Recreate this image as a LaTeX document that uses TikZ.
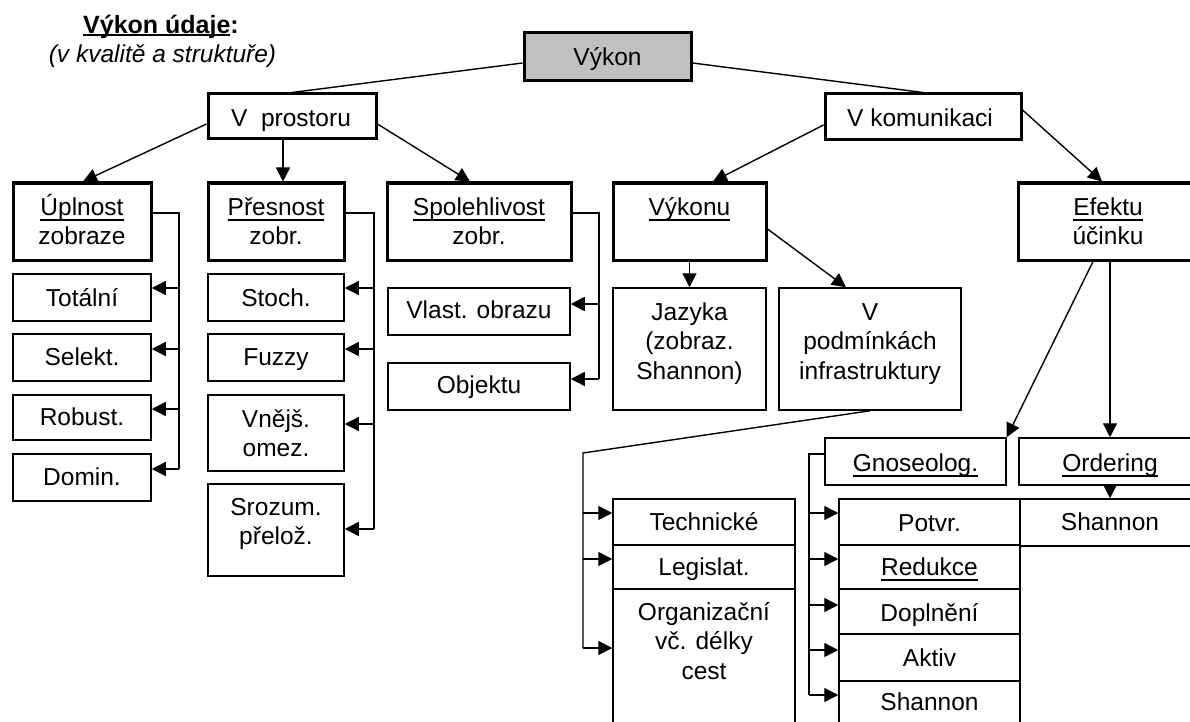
\documentclass[tikz,border=0pt]{standalone}
\usepackage{fontspec}
\setmainfont{Liberation Sans}
\usetikzlibrary{arrows.meta,calc}
\definecolor{boxgray}{RGB}{192,192,192}
% underline set at a fixed depth below the baseline
\newcommand\undl[1]{\setbox0\hbox{#1}\rlap{\rule[-5.3pt]{\wd0}{2pt}}\box0}
\newcommand\ttlul[1]{\setbox0\hbox{#1}\rlap{\rule[-2.8pt]{\wd0}{2.4pt}}\box0}
% fixed first-line height, so that a label's top lies 24pt above its first baseline
\newcommand\lnst{\rule{0pt}{24pt}}
\begin{document}
\begin{tikzpicture}[x=1pt,y=-1pt,
  thickbox/.style={draw,line width=3pt,inner sep=0pt},
  thinbox/.style={draw,line width=1.5pt,inner sep=0pt},
  sz/.style 2 args={minimum width=#1pt,minimum height=#2pt},
  lbl/.style={anchor=north,inner sep=0pt,align=center,font=\fontsize{24.5}{29.5}\selectfont},
  link/.style={line width=1.4pt},
  arr/.style={link,-{Triangle[length=14pt,width=14pt]}}]
\useasboundingbox (0,0) rectangle (1190,722);
\clip (0,0) rectangle (1190,722);

% heading
\node[lbl,font=\bfseries\fontsize{25}{30}\selectfont] (title) at (161,9) {\lnst\ttlul{Výkon údaje}:};
\node[lbl,font=\itshape\fontsize{24.5}{29.5}\selectfont] (subtitle) at (162.5,38) {\lnst(v kvalitě a struktuře)};

% top levels
\node[thickbox,fill=boxgray,sz={167}{48}] (vykon) at (607.5,57) {};
\node[thickbox,sz={168}{45}] (vp) at (292,116.5) {};
\node[thickbox,sz={196}{46}] (vk) at (923,117) {};

\node[thickbox,sz={138}{77}] (upl) at (82,221.5) {};
\node[thickbox,sz={136}{77}] (pres) at (276,221.5) {};
\node[thickbox,sz={184}{77}] (spol) at (479,221.5) {};
\node[thickbox,sz={153}{77}] (vykonu) at (689.5,221.5) {};
\node[thickbox,sz={180}{77}] (efektu) at (1108,221.5) {};

% children of the space branch
\node[thinbox,sz={138}{47}] (tot) at (82,297.5) {};
\node[thinbox,sz={138}{47}] (sel) at (82,357.5) {};
\node[thinbox,sz={138}{45}] (rob) at (82,417.5) {};
\node[thinbox,sz={138}{47}] (dom) at (82,477.5) {};

\node[thinbox,sz={136}{47}] (sto) at (276,297.5) {};
\node[thinbox,sz={136}{47}] (fuz) at (276,357.5) {};
\node[thinbox,sz={136}{76}] (vne) at (276,433) {};
\node[thinbox,sz={136}{92}] (sro) at (276,530) {};

\node[thinbox,sz={182}{47}] (vla) at (479,311.5) {};
\node[thinbox,sz={182}{47}] (obj) at (479,386.5) {};

% children of the communication branch
\node[thinbox,sz={153}{122}] (jaz) at (689.5,349) {};
\node[thinbox,sz={182}{122}] (vpo) at (870,349) {};

\node[thinbox,sz={181}{47}] (gno) at (915.5,461.5) {};
\node[thinbox,sz={182}{47}] (ord) at (1110,461.5) {};
\node[thinbox,sz={180}{47}] (shr) at (1110,522.5) {};

\node[thinbox,sz={181}{46}] (pot) at (929.5,522) {};
\node[thinbox,sz={181}{44}] (red) at (929.5,567) {};
\node[thinbox,sz={181}{45}] (dop) at (929.5,611.5) {};
\node[thinbox,sz={181}{47}] (akt) at (929.5,657.5) {};
\node[thinbox,sz={181}{46}] (sha) at (929.5,704) {};

\node[thinbox,sz={182}{46}] (tec) at (704,522) {};
\node[thinbox,sz={182}{44}] (leg) at (704,567) {};
\node[thinbox,sz={182}{171}] (org) at (704,674.5) {};

% texts
\node[lbl] (vykon-t) at (607.5,41) {\lnst Výkon};
\node[lbl] (vp-t) at (291,102) {\lnst V\ \ prostoru};
\node[lbl] (vk-t) at (920,102) {\lnst V komunikaci};
\node[lbl] (upl-t) at (82,191) {\lnst\undl{Úplnost}\\zobraze};
\node[lbl] (pres-t) at (276,191) {\lnst\undl{Přesnost}\\zobr.};
\node[lbl] (spol-t) at (479,191) {\lnst\undl{Spolehlivost}\\zobr.};
\node[lbl] (vykonu-t) at (689.5,191) {\lnst\undl{Výkonu}};
\node[lbl] (efektu-t) at (1108,191) {\lnst\undl{Efektu}\\účinku};
\node[lbl] (tot-t) at (82,282) {\lnst Totální};
\node[lbl] (sel-t) at (82,341) {\lnst Selekt.};
\node[lbl] (rob-t) at (82,401) {\lnst Robust.};
\node[lbl] (dom-t) at (82,461) {\lnst Domin.};
\node[lbl] (sto-t) at (276,282) {\lnst Stoch.};
\node[lbl] (fuz-t) at (276,341) {\lnst Fuzzy};
\node[lbl] (vne-t) at (276,403) {\lnst Vnějš.\\omez.};
\node[lbl] (sro-t) at (276,491) {\lnst Srozum.\\přelož.};
\node[lbl] (vla-t) at (479,294) {\lnst Vlast. obrazu};
\node[lbl] (obj-t) at (479,369) {\lnst Objektu};
\node[lbl] (jaz-t) at (689.5,296) {\lnst Jazyka\\(zobraz.\\Shannon)};
\node[lbl] (vpo-t) at (870,296) {\lnst V\\podmínkách\\infrastruktury};
\node[lbl] (gno-t) at (915.5,447) {\lnst\undl{Gnoseolog.}};
\node[lbl] (ord-t) at (1110,447) {\lnst\undl{Ordering}};
\node[lbl] (shr-t) at (1110,506) {\lnst Shannon};
\node[lbl] (pot-t) at (929.5,507) {\lnst Potvr.};
\node[lbl] (red-t) at (929.5,551) {\lnst\undl{Redukce}};
\node[lbl] (dop-t) at (929.5,597) {\lnst Doplnění};
\node[lbl] (akt-t) at (929.5,642) {\lnst Aktiv};
\node[lbl] (sha-t) at (929.5,686) {\lnst Shannon};
\node[lbl] (tec-t) at (704,506) {\lnst Technické};
\node[lbl] (leg-t) at (704,551) {\lnst Legislat.};
\node[lbl] (org-t) at (704,596) {\lnst Organizační\\vč. délky\\cest};

% tree connectors
\draw[link] ([yshift=-6pt]vykon.west) -- (vp.north);
\draw[link] ([yshift=-6pt]vykon.east) -- (vk.north);
\draw[arr] ([yshift=-7.5pt]vp.west) -- ([xshift=1pt]upl.north);
\draw[arr] ([xshift=-9pt]vp.south) -- ([xshift=7pt]pres.north);
\draw[arr] ([yshift=-7.5pt]vp.east) -- ([xshift=-9pt]spol.north);
\draw[arr] ([yshift=-8pt]vk.west) -- ([xshift=23.5pt]vykonu.north);
\draw[arr] ([yshift=7pt]vk.east) -- ([xshift=-6pt]efektu.north);
\draw[arr] (vykonu.south) -- (jaz.north);
\draw[arr] ([yshift=-7.5pt]vykonu.east) -- ([xshift=-24pt]vpo.north);
\draw[arr] ([xshift=-15pt]efektu.south) -- (gno.north east);
\draw[arr] (efektu.south -| ord.north) -- (ord.north);
\draw[arr] (ord.south) -- (shr.north);

% side buses
\coordinate (ubus) at (179,0);
\foreach \c/\s in {tot/9.5pt,sel/8.5pt,rob/8.5pt,dom/8.5pt}{
  \coordinate (\c-in) at ([yshift=\s]\c.east);
  \draw[arr] (ubus |- \c-in) -- (\c-in);
}
\draw[link] ([yshift=8.5pt]upl.east) -| (ubus |- dom-in);

\coordinate (pbus) at (374,0);
\foreach \c/\s in {sto/9.5pt,fuz/8.5pt,vne/9pt,sro/1pt}{
  \coordinate (\c-in) at ([yshift=\s]\c.east);
  \draw[arr] (pbus |- \c-in) -- (\c-in);
}
\draw[link] ([yshift=8.5pt]pres.east) -| (pbus |- sro-in);

\coordinate (sbus) at (599,0);
\foreach \c/\s in {vla/7.5pt,obj/7.5pt}{
  \coordinate (\c-in) at ([yshift=\s]\c.east);
  \draw[arr] (sbus |- \c-in) -- (\c-in);
}
\draw[link] ([yshift=8.5pt]spol.east) -| (sbus |- obj-in);

\coordinate (gbus) at (809,0);
\foreach \c/\s in {pot/9pt,red/8pt,dop/6.5pt,akt/7.5pt,sha/9pt}{
  \coordinate (\c-in) at ([yshift=\s]\c.west);
  \draw[arr] (gbus |- \c-in) -- (\c-in);
}
\draw[link] ([yshift=7.5pt]gno.west) -| (gbus |- sha-in);

\coordinate (ibus) at (583,453);
\foreach \c/\s in {tec/9pt,leg/8pt,org/26.5pt}{
  \coordinate (\c-in) at ([yshift=\s]\c.west);
  \draw[arr] (ibus |- \c-in) -- (\c-in);
}
\draw[link] (vpo.south) -- (ibus) -- (ibus |- org-in);
\end{tikzpicture}
\end{document}
